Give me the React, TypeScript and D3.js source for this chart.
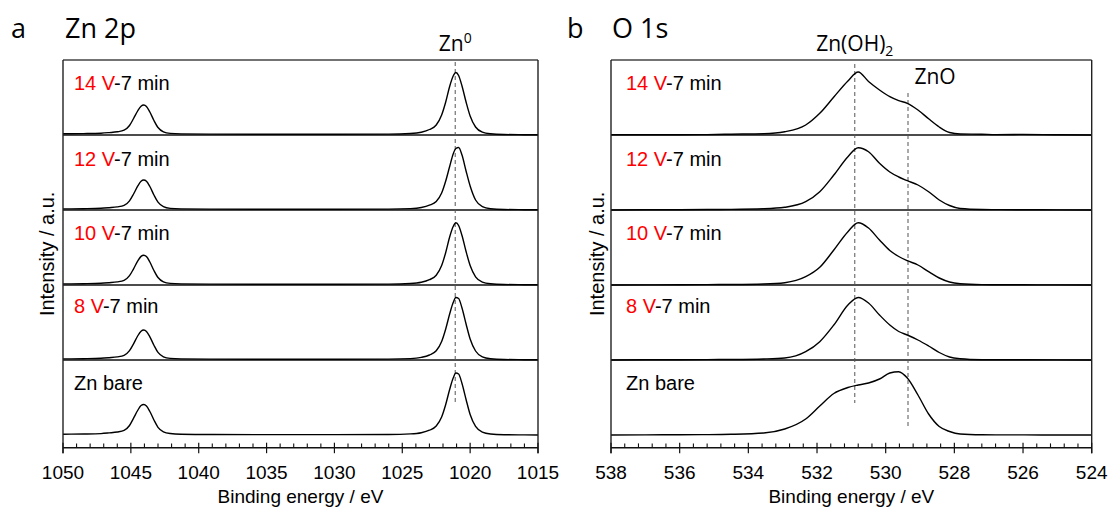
import React from "react";
import * as d3 from "d3";

// ---------------- DATA ----------------
const zn2pEnergy = [1050, 1048.5, 1047.2, 1046.6, 1046.0, 1045.5, 1045.1, 1044.8, 1044.5, 1044.25, 1044.05, 1043.85, 1043.6, 1043.3, 1043.0, 1042.6, 1042.1, 1041.3, 1039, 1035, 1030, 1026, 1024.4, 1023.6, 1023.0, 1022.5, 1022.1, 1021.8, 1021.5, 1021.25, 1021.05, 1020.85, 1020.6, 1020.3, 1020.0, 1019.6, 1019.1, 1018.5, 1017.5, 1016, 1015];

const zn2p_14V = [1.2, 1.4, 1.8, 2.4, 3.2, 4.8, 9.5, 16.5, 24, 28.8, 30, 28.6, 23, 14.5, 7.5, 3.2, 1.6, 1.1, 0.9, 0.8, 0.8, 0.9, 1.5, 2.8, 5.5, 10, 20, 33, 49, 59, 62.5, 59.5, 49, 33, 19, 8, 2.8, 1.2, 0.5, 0.3, 0.2];
const zn2p_12V = [1.1, 1.3, 1.7, 2.3, 3.1, 4.6, 9.2, 16, 23.8, 28.8, 30, 28.8, 23.5, 15, 7.8, 3.3, 1.6, 1.1, 0.9, 0.8, 0.8, 0.9, 1.4, 2.5, 4.8, 8.5, 17, 29, 44, 56, 61.5, 62.5, 55, 39, 24, 10, 3.4, 1.3, 0.5, 0.3, 0.2];
const zn2p_10V = [1.1, 1.3, 1.7, 2.3, 3.1, 4.6, 9.3, 16.2, 23.8, 28.6, 29.8, 28.5, 23, 14.5, 7.5, 3.2, 1.6, 1.1, 0.9, 0.8, 0.8, 0.9, 1.5, 2.7, 5.3, 9.8, 19.5, 32.5, 48.5, 58.5, 62.3, 59.5, 49.5, 33.5, 19.5, 8.2, 2.9, 1.2, 0.5, 0.3, 0.2];
const zn2p_8V = [1.1, 1.3, 1.7, 2.3, 3.1, 4.6, 9.3, 16.2, 24, 28.8, 30, 28.6, 23.2, 14.8, 7.6, 3.2, 1.6, 1.1, 0.9, 0.8, 0.8, 0.9, 1.4, 2.6, 5.0, 9.2, 18.5, 31, 46.5, 57.5, 62.5, 61.5, 52, 36, 21, 9, 3.1, 1.2, 0.5, 0.3, 0.2];
const zn2p_bare = [0.8, 1.0, 1.4, 2.1, 3.0, 4.6, 9.5, 16.8, 24.5, 29.5, 30.5, 29, 23.5, 15, 7.7, 3.2, 1.5, 0.8, 0.5, 0.4, 0.4, 0.5, 1.1, 2.3, 4.8, 9, 18, 30.5, 46, 57, 62, 61, 51.5, 35.5, 20.5, 8.6, 2.9, 1.0, 0.3, 0.1, 0];

const o1sEnergy = [538, 537, 536, 535.2, 534.5, 533.55, 532.94, 532.33, 531.92, 531.51, 531.1, 530.8, 530.5, 530.18, 529.88, 529.62, 529.37, 529.06, 528.75, 528.44, 528.14, 527.83, 527.2, 526.8, 526, 525, 524];

const o1s_14V = [0.3, 0.2, 0.3, 0.4, 0.8, 1.3, 3.3, 10, 21.7, 38, 54, 63, 53.5, 45, 38.3, 34.3, 31.7, 25, 16.2, 8, 2.5, 1.0, 0.8, 0.4, 0.6, 0.2, 0];
const o1s_12V = [0, 0.2, 0.3, 0.5, 0.6, 1.2, 2.7, 8.3, 18.3, 35, 53.3, 62.3, 58.3, 46.7, 38, 33, 29.3, 25, 18.3, 10, 4.5, 1.5, 0.5, 0.4, 0.3, 0.1, 0];
const o1s_10V = [0, 0.1, 0.2, 0.4, 0.5, 1.0, 2.3, 8.3, 17.7, 35, 53.3, 62.3, 57, 45, 34.5, 28.5, 24.3, 20, 13.3, 7, 3, 1.3, 0.4, 0.3, 0.2, 0.1, 0];
const o1s_8V = [0, 0.2, 0.3, 0.4, 0.5, 1.0, 2.0, 8.3, 18.3, 35, 55, 62.5, 57, 45, 35, 28.5, 25, 20, 14, 7.5, 3, 1.3, 0.3, 0.2, 0.2, 0.1, 0];
const o1s_bare = [0, 0.1, 0.3, 0.4, 0.7, 2.0, 6, 16, 29, 41.5, 47.5, 50, 52, 56, 62, 63.3, 57, 40, 21, 8.5, 3.5, 1.0, 0.2, 0.1, 0.1, 0, 0];

const sampleVoltage = ["14 V", "12 V", "10 V", "8 V", ""];
const sampleRest = ["-7 min", "-7 min", "-7 min", "-7 min", "Zn bare"];

const zn2pTickLabels = [1050, 1045, 1040, 1035, 1030, 1025, 1020, 1015];
const o1sTickLabels = [538, 536, 534, 532, 530, 528, 526, 524];

const zn2pSeries = [zn2p_14V, zn2p_12V, zn2p_10V, zn2p_8V, zn2p_bare];
const o1sSeries = [o1s_14V, o1s_12V, o1s_10V, o1s_8V, o1s_bare];

// ---------------- LAYOUT ----------------
const W = 1111;
const H = 513;
const TOP = 60;
const AXIS_Y = 447.7;
const BASELINES = [135, 210, 285, 360, 435];
const LABEL_BASE = [90, 166, 240, 313, 390];
const SANS = "'Liberation Sans', Arial, sans-serif";
const TITLE_FONT = "'Open Sans', 'Noto Sans', sans-serif";

type PanelProps = {
  x0: number;
  x1: number;
  domain: [number, number];
  energy: number[];
  series: number[][];
  majors: number[];
  minors: number[];
  letter: string;
  letterX: number;
  title: string;
  titleX: number;
  labelX: number;
  yTitleX: number;
  children?: (x: d3.ScaleLinear<number, number>) => React.ReactNode;
};

function Panel(p: PanelProps) {
  const x = d3.scaleLinear().domain(p.domain).range([p.x0, p.x1]);
  const line = (vals: number[], base: number) => {
    const y = d3.scaleLinear().domain([0, 75]).range([base, base - 75]);
    const gen = d3
      .line<number>()
      .x((_, i) => x(p.energy[i]))
      .y((v) => y(v))
      .curve(d3.curveMonotoneX);
    return gen(vals) || "";
  };
  return (
    <g>
      <text x={p.letterX} y={38} fontFamily={TITLE_FONT} fontSize={27} fill="#000">
        {p.letter}
      </text>
      <text x={p.titleX} y={38} fontFamily={TITLE_FONT} fontSize={27} fill="#000">
        {p.title}
      </text>
      {BASELINES.slice(0, 4).map((b, i) => (
        <line key={"s" + i} x1={p.x0} x2={p.x1} y1={b} y2={b} stroke="#111" strokeWidth={1.3} />
      ))}
      {p.children ? p.children(x) : null}
      {p.series.map((vals, i) => (
        <path key={"p" + i} d={line(vals, BASELINES[i])} fill="none" stroke="#000" strokeWidth={1.4} />
      ))}
      <line x1={p.x0} x2={p.x1} y1={TOP} y2={TOP} stroke="#444" strokeWidth={1.6} />
      <line x1={p.x0} x2={p.x1} y1={AXIS_Y} y2={AXIS_Y} stroke="#111" strokeWidth={1.4} />
      <line x1={p.x0} x2={p.x0} y1={TOP} y2={AXIS_Y + 5.5} stroke="#222" strokeWidth={1.4} />
      <line x1={p.x1} x2={p.x1} y1={TOP} y2={AXIS_Y + 5.5} stroke="#222" strokeWidth={1.4} />
      {p.minors.map((t, i) => (
        <line key={"m" + i} x1={x(t)} x2={x(t)} y1={AXIS_Y - 4.3} y2={AXIS_Y} stroke="#111" strokeWidth={1.1} />
      ))}
      {p.majors.map((t) => (
        <g key={"M" + t}>
          <line x1={x(t)} x2={x(t)} y1={AXIS_Y - 5} y2={AXIS_Y + 5.5} stroke="#111" strokeWidth={1.2} />
          <text x={x(t)} y={478.5} textAnchor="middle" fontFamily={SANS} fontSize={19} fill="#000">
            {t}
          </text>
        </g>
      ))}
      <text x={(p.x0 + p.x1) / 2} y={503} textAnchor="middle" fontFamily={SANS} fontSize={19} fill="#000">
        Binding energy / eV
      </text>
      <text
        transform={`translate(${p.yTitleX},${(TOP + AXIS_Y) / 2}) rotate(-90)`}
        textAnchor="middle"
        fontFamily={SANS}
        fontSize={20}
        fill="#000"
      >
        Intensity / a.u.
      </text>
      {sampleRest.map((r, i) => (
        <text key={"l" + i} x={p.labelX} y={LABEL_BASE[i]} fontFamily={SANS} fontSize={20} fill="#000">
          {sampleVoltage[i] ? <tspan fill="#ff0000">{sampleVoltage[i]}</tspan> : null}
          <tspan>{r}</tspan>
        </text>
      ))}
    </g>
  );
}

export default function App() {
  const znMinors = d3.range(1015, 1051, 1).filter((v) => v % 5 !== 0);
  const oMinors = d3
    .range(0, 36)
    .map((i) => +(524 + i * 0.4).toFixed(1))
    .filter((v) => Math.abs(v - Math.round(v / 2) * 2) > 0.01);
  return (
    <div style={{ position: "absolute", left: 0, top: 0 }}>
      <svg width={W} height={H} viewBox={`0 0 ${W} ${H}`} style={{ display: "block", background: "#fff" }}>
        <rect width={W} height={H} fill="#fff" />
        <Panel
          x0={63}
          x1={538}
          domain={[1050, 1015]}
          energy={zn2pEnergy}
          series={zn2pSeries}
          majors={zn2pTickLabels}
          minors={znMinors}
          letter="a"
          letterX={11}
          title="Zn 2p"
          titleX={65}
          labelX={74}
          yTitleX={54}
        >
          {(x) => (
            <g>
              <line x1={x(1021.1)} x2={x(1021.1)} y1={62} y2={403} stroke="#555" strokeWidth={1} strokeDasharray="4,3" />
              <text x={x(1021.1)} y={50.5} textAnchor="middle" fontFamily={TITLE_FONT} fontSize={21} fill="#000">
                Zn<tspan fontSize={14} dy={-8}>0</tspan>
              </text>
            </g>
          )}
        </Panel>
        <Panel
          x0={611}
          x1={1091.7}
          domain={[538, 524]}
          energy={o1sEnergy}
          series={o1sSeries}
          majors={o1sTickLabels}
          minors={oMinors}
          letter="b"
          letterX={567}
          title="O 1s"
          titleX={612}
          labelX={626}
          yTitleX={604}
        >
          {(x) => (
            <g>
              <line x1={x(530.9)} x2={x(530.9)} y1={64} y2={403} stroke="#555" strokeWidth={1} strokeDasharray="4,3" />
              <line x1={x(529.35)} x2={x(529.35)} y1={93} y2={427} stroke="#555" strokeWidth={1} strokeDasharray="4,3" />
              <text x={x(530.9)} y={50.5} textAnchor="middle" fontFamily={TITLE_FONT} fontSize={21} fill="#000">
                Zn(OH)<tspan fontSize={14} dy={5}>2</tspan>
              </text>
              <text x={x(529.35) + 27} y={84} textAnchor="middle" fontFamily={TITLE_FONT} fontSize={21} fill="#000">
                ZnO
              </text>
            </g>
          )}
        </Panel>
      </svg>
    </div>
  );
}
